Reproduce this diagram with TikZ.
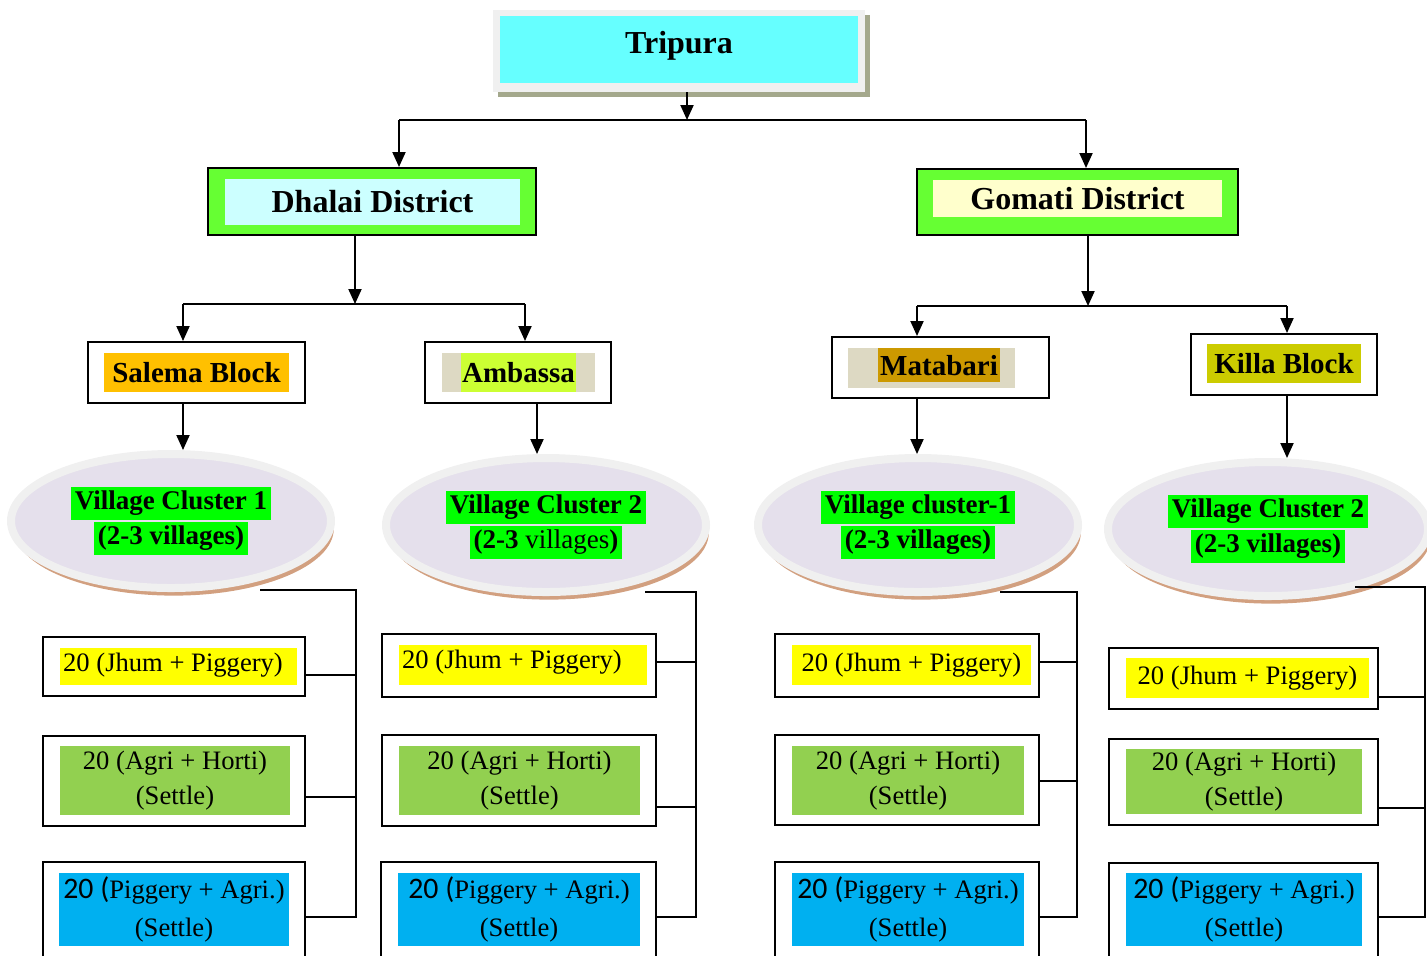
\documentclass[tikz,border=0pt]{standalone}
\usepackage{fontspec}
\setmainfont{Liberation Serif}
\newfontfamily\carl{Carlito}[Scale=1.12]
\usetikzlibrary{fit,shadows,arrows.meta,shapes.geometric}
\definecolor{cyanT}{HTML}{66FFFF}
\definecolor{greenD}{HTML}{66FF33}
\definecolor{lightcyan}{HTML}{CCFFFF}
\definecolor{lightyellow}{HTML}{FFFFCC}
\definecolor{orangeS}{HTML}{FFC000}
\definecolor{beige}{HTML}{DDD9C3}
\definecolor{limeA}{HTML}{CCFF33}
\definecolor{goldM}{HTML}{CC9900}
\definecolor{oliveK}{HTML}{CCCC00}
\definecolor{lavender}{HTML}{E5E0EC}
\definecolor{ringgrey}{HTML}{F0F0F0}
\definecolor{tanc}{HTML}{D2A080}
\definecolor{shadowolive}{HTML}{A4A88C}
\definecolor{vgreen}{HTML}{00FF00}
\definecolor{yellowH}{HTML}{FFFF00}
\definecolor{agriG}{HTML}{92D050}
\definecolor{blueP}{HTML}{00B0F0}
\newcommand{\hlg}[1]{{\setlength{\fboxsep}{1.9pt}\colorbox{vgreen}{#1}}}

\begin{document}
\begin{tikzpicture}[x=0.5pt, y=-0.5pt,
    box/.style = {draw, line width=1pt, inner sep=0pt},
    filler/.style = {inner sep=0pt},
    head/.style = {inner sep=0pt, font=\fontsize{16}{19}\selectfont\bfseries},
    blk/.style = {inner sep=0pt, font=\fontsize{14.5}{17}\selectfont\bfseries},
    txt/.style = {inner sep=0pt, align=center, font=\fontsize{13.3}{17.5}\selectfont},
    pigtxt/.style = {txt, font=\fontsize{13.3}{19}\selectfont},
    cluster/.style = {ellipse, fill=lavender, draw=ringgrey, line width=4pt, inner sep=0pt,
        minimum width=160pt, minimum height=67pt, align=center,
        font=\fontsize{13.5}{17.5}\selectfont\bfseries,
        drop shadow={shadow xshift=1.4pt, shadow yshift=-3.8pt, fill=tanc, opacity=1}},
    arr/.style = {-{Triangle[length=7.5pt,width=6.5pt]}, line width=1pt},
    link/.style = {line width=0.8pt}]
    \useasboundingbox (0,0) rectangle (1427,955);

    \node[fit={(493,10) (865,92)}, fill=ringgrey, inner sep=0pt,
        drop shadow={shadow xshift=2.5pt, shadow yshift=-2.5pt, fill=shadowolive, opacity=1}] (tripura) {};
    \node[filler, fill=cyanT, fit={(500,16) (858,83)}] (tripuraB) {};
    \node[head] (tripuraT) at (679,46) {Tripura};

    \node[box, fill=greenD, fit={(208,168) (536,235)}] (dhalai) {};
    \node[filler, fill=lightcyan, fit={(225,179) (520,225)}] (dhalaiB) {};
    \node[head] (dhalaiT) at (dhalaiB) {Dhalai District};
    \node[box, fill=greenD, fit={(917,169) (1238,235)}] (gomati) {};
    \node[filler, fill=lightyellow, fit={(933,180) (1222,217)}] (gomatiB) {};
    \node[head] (gomatiT) at (gomatiB) {Gomati District};

    \node[box, fit={(88,342) (305,403)}] (salema) {};
    \node[filler, fill=orangeS, fit={(104,353) (289,392)}] (salemaB) {};
    \node[blk] (salemaT) at (salemaB) {Salema Block};
    \node[box, fit={(425,342) (611,403)}] (ambassa) {};
    \node[filler, fill=beige, fit={(442,353) (595,392)}] (ambassaB) {};
    \node[filler, fill=limeA, fit={(461,353) (576,392)}] (ambassaH) {};
    \node[blk] (ambassaT) at (ambassaH) {Ambassa};
    \node[box, fit={(832,337) (1049,398)}] (matabari) {};
    \node[filler, fill=beige, fit={(848,348) (1015,388)}] (matabariB) {};
    \node[filler, fill=goldM, fit={(878,348) (1000,382)}] (matabariH) {};
    \node[blk] (matabariT) at (939,366) {Matabari};
    \node[box, fit={(1191,334) (1377,395)}] (killa) {};
    \node[filler, fill=oliveK, fit={(1207,344) (1361,383)}] (killaB) {};
    \node[blk] (killaT) at (killaB) {Killa Block};

    \node[cluster] (vc1) at (171,521) {\hlg{Village Cluster 1}\\\hlg{(2-3 villages)}};
    \node[cluster] (vc2) at (546,525) {\hlg{Village Cluster 2}\\\hlg{(2-3 \textmd{villages})}};
    \node[cluster] (vc3) at (918,525) {\hlg{Village cluster-1}\\\hlg{(2-3 villages)}};
    \node[cluster] (vc4) at (1268,529) {\hlg{Village Cluster 2}\\\hlg{(2-3 villages)}};

    \node[box, fit={(43,637) (305,696)}] (jhum1) {};
    \node[filler, fill=yellowH, fit={(60,648) (297,685)}] (jhum1B) {};
    \node[txt] (jhum1T) at (173,665) {20 (Jhum + Piggery)};
    \node[box, fit={(43,736) (305,826)}] (agri1) {};
    \node[filler, fill=agriG, fit={(60,746) (290,815)}] (agri1B) {};
    \node[txt] (agri1T) at (agri1B) {20 (Agri + Horti)\\(Settle)};
    \node[box, fit={(43,862) (305,975)}] (pig1) {};
    \node[filler, fill=blueP, fit={(59,873) (289,946)}] (pig1B) {};
    \node[pigtxt] (pig1T) at (pig1B) {{\carl 20 (}Piggery + Agri.)\\(Settle)};

    \node[box, fit={(382,634) (656,697)}] (jhum2) {};
    \node[filler, fill=yellowH, fit={(399,645) (647,685)}] (jhum2B) {};
    \node[txt] (jhum2T) at (512,662) {20 (Jhum + Piggery)};
    \node[box, fit={(382,735) (656,826)}] (agri2) {};
    \node[filler, fill=agriG, fit={(399,746) (640,815)}] (agri2B) {};
    \node[txt] (agri2T) at (agri2B) {20 (Agri + Horti)\\(Settle)};
    \node[box, fit={(381,862) (656,975)}] (pig2) {};
    \node[filler, fill=blueP, fit={(398,873) (640,946)}] (pig2B) {};
    \node[pigtxt] (pig2T) at (pig2B) {{\carl 20 (}Piggery + Agri.)\\(Settle)};

    \node[box, fit={(775,634) (1039,697)}] (jhum3) {};
    \node[filler, fill=yellowH, fit={(792,645) (1031,685)}] (jhum3B) {};
    \node[txt] (jhum3T) at (jhum3B) {20 (Jhum + Piggery)};
    \node[box, fit={(775,735) (1039,825)}] (agri3) {};
    \node[filler, fill=agriG, fit={(792,746) (1024,815)}] (agri3B) {};
    \node[txt] (agri3T) at (agri3B) {20 (Agri + Horti)\\(Settle)};
    \node[box, fit={(775,862) (1039,975)}] (pig3) {};
    \node[filler, fill=blueP, fit={(792,873) (1024,946)}] (pig3B) {};
    \node[pigtxt] (pig3T) at (pig3B) {{\carl 20 (}Piggery + Agri.)\\(Settle)};

    \node[box, fit={(1109,648) (1378,709)}] (jhum4) {};
    \node[filler, fill=yellowH, fit={(1126,658) (1369,698)}] (jhum4B) {};
    \node[txt] (jhum4T) at (jhum4B) {20 (Jhum + Piggery)};
    \node[box, fit={(1109,739) (1378,825)}] (agri4) {};
    \node[filler, fill=agriG, fit={(1126,749) (1362,814)}] (agri4B) {};
    \node[txt] (agri4T) at (agri4B) {20 (Agri + Horti)\\(Settle)};
    \node[box, fit={(1109,863) (1378,975)}] (pig4) {};
    \node[filler, fill=blueP, fit={(1126,873) (1362,946)}] (pig4B) {};
    \node[pigtxt] (pig4T) at (pig4B) {{\carl 20 (}Piggery + Agri.)\\(Settle)};

    \coordinate (top) at (687,120);
    \coordinate (topL) at (399,120);
    \coordinate (topR) at (1086,120);
    \draw[arr] (top |- tripura.south) -- (top);
    \draw[line width=1pt] (topL) -- (topR);
    \draw[arr] (topL) -- (topL |- dhalai.north);
    \draw[arr] (topR) -- (topR |- gomati.north);

    \coordinate (dh) at (355,304);
    \coordinate (dhL) at (183,304);
    \coordinate (dhR) at (525,304);
    \draw[arr] (dh |- dhalai.south) -- (dh);
    \draw[line width=1pt] (dhL) -- (dhR);
    \draw[arr] (dhL) -- (dhL |- salema.north);
    \draw[arr] (dhR) -- (dhR |- ambassa.north);

    \coordinate (go) at (1088,306);
    \coordinate (goL) at (917,306);
    \coordinate (goR) at (1287,306);
    \draw[arr] (go |- gomati.south) -- (go);
    \draw[line width=1pt] (goL) -- (goR);
    \draw[arr] (goL) -- (goL |- matabari.north);
    \draw[arr] (goR) -- (goR |- killa.north);

    \draw[arr] (salema.south -| dhL) -- (vc1.north -| dhL);
    \draw[arr] (ambassa.south -| 537,0) -- (vc2.north -| 537,0);
    \draw[arr] (matabari.south -| goL) -- (vc3.north -| goL);
    \draw[arr] (killa.south -| goR) -- (vc4.north -| goR);

    \coordinate (b1) at (356,590);
    \coordinate (b1s) at (260,590);
    \draw[link] (b1s) -- (b1) -- (356,917) -- (pig1.east |- 0,917);
    \draw[link] (jhum1.east |- 0,675) -- (356,675);
    \draw[link] (agri1.east |- 0,797) -- (356,797);

    \coordinate (b2) at (696,592);
    \coordinate (b2s) at (645,592);
    \draw[link] (b2s) -- (b2) -- (696,917) -- (pig2.east |- 0,917);
    \draw[link] (jhum2.east |- 0,662) -- (696,662);
    \draw[link] (agri2.east |- 0,807) -- (696,807);

    \coordinate (b3) at (1077,592);
    \coordinate (b3s) at (1000,592);
    \draw[link] (b3s) -- (b3) -- (1077,917) -- (pig3.east |- 0,917);
    \draw[link] (jhum3.east |- 0,662) -- (1077,662);
    \draw[link] (agri3.east |- 0,781) -- (1077,781);

    \coordinate (b4) at (1425,587);
    \coordinate (b4s) at (1355,587);
    \draw[link] (b4s) -- (b4) -- (1425,917) -- (pig4.east |- 0,917);
    \draw[link] (jhum4.east |- 0,697) -- (1425,697);
    \draw[link] (agri4.east |- 0,808) -- (1425,808);
\end{tikzpicture}
\end{document}
